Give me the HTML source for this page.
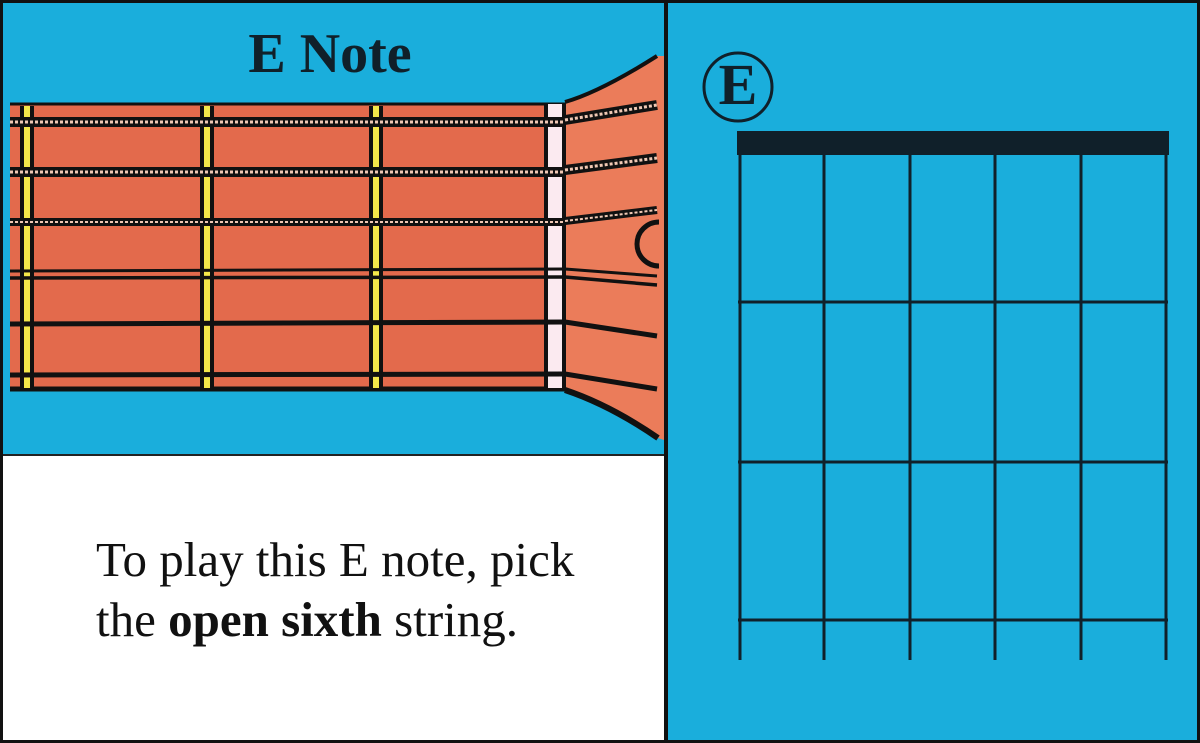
<!DOCTYPE html>
<html><head><meta charset="utf-8"><style>
html,body{margin:0;padding:0;background:#fff}
svg{display:block}
</style></head><body>
<svg width="1200" height="743" viewBox="0 0 1200 743" xmlns="http://www.w3.org/2000/svg">
<rect x="0" y="0" width="1200" height="743" fill="#1aaedc"/>
<rect x="3" y="455" width="663" height="285" fill="#fff"/>
<line x1="3" y1="455" x2="666" y2="455" stroke="#222" stroke-width="2"/>
<rect x="1.5" y="1.5" width="1197" height="740" fill="none" stroke="#111" stroke-width="3"/>
<line x1="666" y1="0" x2="666" y2="743" stroke="#111" stroke-width="4"/>
<text x="330" y="72" text-anchor="middle" font-family="Liberation Serif, serif" font-weight="bold" font-size="56" fill="#10202a">E Note</text>
<rect x="10" y="104" width="556" height="286" fill="#e36a4c"/>
<path d="M565 102 Q600 92 657 56 L664 56 L664 440 L658 438 Q610 405 565 389 Z" fill="#eb7c5a"/>
<path d="M565 102 Q600 92 657 56" fill="none" stroke="#111" stroke-width="4"/>
<path d="M565 390 Q610 405 658 438" fill="none" stroke="#111" stroke-width="6"/>
<line x1="10" y1="104" x2="566" y2="104" stroke="#111" stroke-width="3"/>
<line x1="10" y1="389" x2="566" y2="389" stroke="#111" stroke-width="5"/>
<g>
<rect x="22" y="106" width="10" height="282" fill="#f4e84a"/>
<line x1="22" y1="106" x2="22" y2="388" stroke="#111" stroke-width="4"/>
<line x1="32" y1="106" x2="32" y2="388" stroke="#111" stroke-width="4"/>
<rect x="204" y="106" width="10" height="282" fill="#f4e84a"/>
<line x1="202" y1="106" x2="202" y2="388" stroke="#111" stroke-width="4"/>
<line x1="212" y1="106" x2="212" y2="388" stroke="#111" stroke-width="4"/>
<rect x="373" y="106" width="10" height="282" fill="#f4e84a"/>
<line x1="371" y1="106" x2="371" y2="388" stroke="#111" stroke-width="4"/>
<line x1="381" y1="106" x2="381" y2="388" stroke="#111" stroke-width="4"/>
<rect x="547" y="104" width="16" height="284" fill="#fbeaf0"/>
<line x1="546" y1="104" x2="546" y2="388" stroke="#111" stroke-width="4"/>
<line x1="564" y1="104" x2="564" y2="388" stroke="#111" stroke-width="4"/>
</g>
<g stroke-linecap="butt">
<line x1="10" y1="122" x2="565" y2="122" stroke="#111" stroke-width="10"/>
<line x1="10" y1="122" x2="565" y2="122" stroke="#f0c8b4" stroke-width="3" stroke-dasharray="3 2"/>
<line x1="565" y1="120" x2="657" y2="105" stroke="#111" stroke-width="10"/>
<line x1="565" y1="120" x2="657" y2="105" stroke="#f0c8b4" stroke-width="3" stroke-dasharray="3 2"/>
<line x1="10" y1="172" x2="565" y2="172" stroke="#111" stroke-width="10"/>
<line x1="10" y1="172" x2="565" y2="172" stroke="#f0c8b4" stroke-width="3" stroke-dasharray="3 2"/>
<line x1="565" y1="170" x2="657" y2="158" stroke="#111" stroke-width="10"/>
<line x1="565" y1="170" x2="657" y2="158" stroke="#f0c8b4" stroke-width="3" stroke-dasharray="3 2"/>
<line x1="10" y1="222" x2="565" y2="222" stroke="#111" stroke-width="8"/>
<line x1="10" y1="222" x2="565" y2="222" stroke="#f0c8b4" stroke-width="2" stroke-dasharray="3 2"/>
<line x1="565" y1="221" x2="657" y2="210" stroke="#111" stroke-width="8"/>
<line x1="565" y1="221" x2="657" y2="210" stroke="#f0c8b4" stroke-width="2" stroke-dasharray="3 2"/>
</g>
<g stroke="#111">
<line x1="10" y1="271" x2="565" y2="269" stroke-width="3"/>
<line x1="10" y1="278" x2="565" y2="277" stroke-width="3.5"/>
<line x1="565" y1="269" x2="657" y2="276" stroke-width="3"/>
<line x1="565" y1="277" x2="657" y2="285" stroke-width="3.5"/>
<line x1="10" y1="324" x2="565" y2="322" stroke-width="5"/>
<line x1="565" y1="322" x2="657" y2="336" stroke-width="5"/>
<line x1="10" y1="375" x2="565" y2="374" stroke-width="5"/>
<line x1="565" y1="374" x2="657" y2="389" stroke-width="5"/>
</g>
<path d="M659 222 A 22 22 0 0 0 659 266" fill="none" stroke="#111" stroke-width="5"/>
<text x="96" y="576" font-family="Liberation Serif, serif" font-size="49" fill="#111">To play this E note, pick</text>
<text x="96" y="636" font-family="Liberation Serif, serif" font-size="49" fill="#111">the <tspan font-weight="bold">open sixth</tspan> string.</text>
<circle cx="738" cy="87" r="34" fill="none" stroke="#10202a" stroke-width="3"/>
<text x="738" y="104" text-anchor="middle" font-family="Liberation Serif, serif" font-weight="bold" font-size="58" fill="#10202a">E</text>
<rect x="737" y="131" width="432" height="24" fill="#10202a"/>
<g stroke="#10202a" stroke-width="3">
<line x1="740" y1="155" x2="740" y2="660"/>
<line x1="824" y1="155" x2="824" y2="660"/>
<line x1="910" y1="155" x2="910" y2="660"/>
<line x1="995" y1="155" x2="995" y2="660"/>
<line x1="1081" y1="155" x2="1081" y2="660"/>
<line x1="1166" y1="155" x2="1166" y2="660"/>
<line x1="738" y1="302" x2="1168" y2="302"/>
<line x1="738" y1="462" x2="1168" y2="462"/>
<line x1="738" y1="620" x2="1168" y2="620"/>
</g>
</svg>
</body></html>
